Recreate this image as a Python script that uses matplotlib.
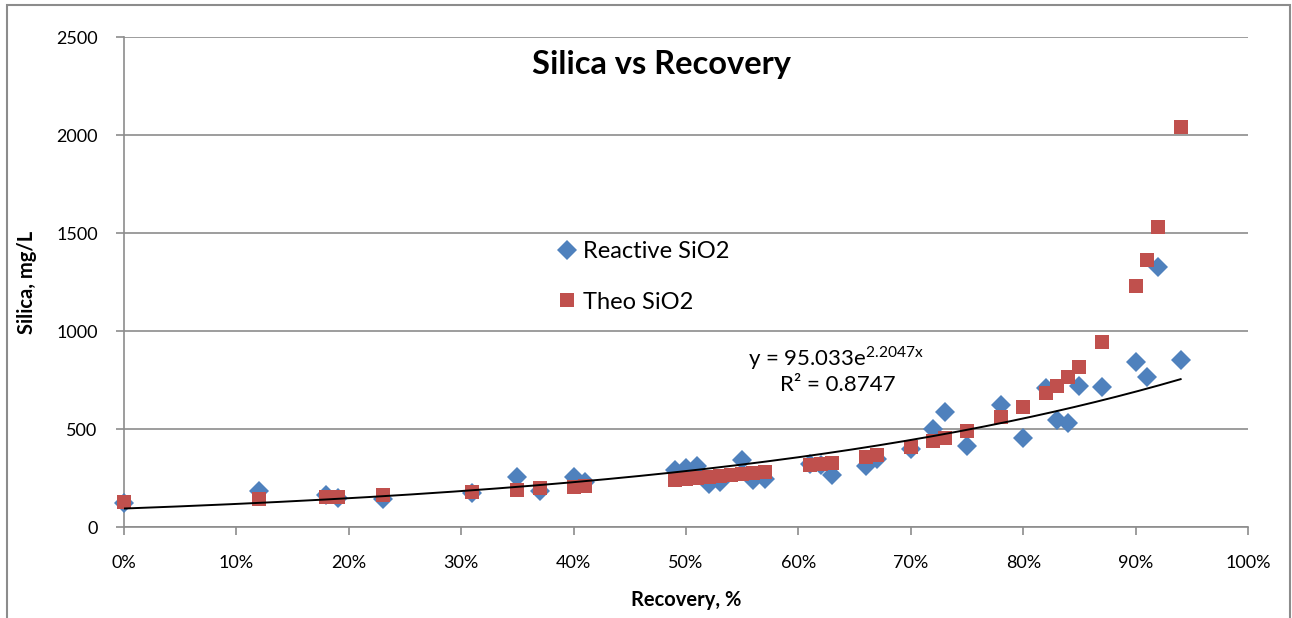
import numpy as np
import matplotlib
matplotlib.use("Agg")
import matplotlib.pyplot as plt
from matplotlib.patches import Rectangle
from matplotlib.ticker import FuncFormatter

plt.rcParams['font.family'] = ['Lato', 'DejaVu Sans']
plt.rcParams['mathtext.fontset'] = 'custom'
plt.rcParams['mathtext.rm'] = 'Lato'

# recovery fraction and silica (mg/L)
recovery = [0.00, 0.12, 0.18, 0.19, 0.23, 0.31, 0.35, 0.37, 0.40, 0.41,
            0.49, 0.50, 0.51, 0.52, 0.53, 0.55, 0.56, 0.57,
            0.61, 0.62, 0.63, 0.66, 0.67, 0.70, 0.72, 0.73, 0.75, 0.78, 0.80,
            0.82, 0.83, 0.84, 0.85, 0.87, 0.90, 0.91, 0.92, 0.94]
reactive = [125, 185, 162, 150, 143, 175, 258, 182, 255, 228,
            290, 300, 310, 222, 228, 345, 242, 245,
            320, 318, 265, 312, 350, 398, 503, 585, 412, 622, 457,
            712, 545, 530, 722, 715, 842, 768, 1325, 852]

theo_rec = [0.00, 0.12, 0.18, 0.19, 0.23, 0.31, 0.35, 0.37, 0.40, 0.41,
            0.49, 0.50, 0.51, 0.52, 0.53, 0.54, 0.55, 0.56, 0.57,
            0.61, 0.62, 0.63, 0.66, 0.67, 0.70, 0.72, 0.73, 0.75, 0.78, 0.80,
            0.82, 0.83, 0.84, 0.85, 0.87, 0.90, 0.91, 0.92, 0.94]
theo = [128, 142, 155, 155, 163, 180, 192, 198, 205, 210,
        242, 246, 250, 255, 260, 265, 270, 276, 282,
        315, 320, 325, 358, 368, 408, 442, 456, 492, 562, 612,
        682, 722, 768, 818, 942, 1228, 1365, 1532, 2040]

# Excel exponential trendline coefficients
trend_a = 95.033
trend_b = 2.2047

fig = plt.figure(figsize=(12.92, 6.18), dpi=100)
ax = fig.add_axes([0.096, 0.147, 0.870, 0.793])

ax.plot(recovery, reactive, linestyle='none', marker='D', markersize=10,
        color='#4F81BD', markeredgewidth=0, label='Reactive SiO2', zorder=3,
        clip_on=False)
ax.plot(theo_rec, theo, linestyle='none', marker='s', markersize=10.5,
        color='#C0504D', markeredgewidth=0, label='Theo SiO2', zorder=4,
        clip_on=False)

xt = np.linspace(0, max(recovery), 200)
ax.plot(xt, trend_a * np.exp(trend_b * xt), color='black', lw=1.4, zorder=5)

ax.set_xlim(0, 1)
ax.set_ylim(0, 2500)
ax.set_xticks(np.arange(0, 1.01, 0.1))
ax.set_yticks(np.arange(0, 2501, 500))
ax.xaxis.set_major_formatter(FuncFormatter(lambda v, p: f"{v*100:.0f}%"))
ax.grid(axis='y', color='#8c8c8c', lw=1.2)
ax.set_axisbelow(True)
for s in ['top', 'right']:
    ax.spines[s].set_visible(False)
for s in ['left', 'bottom']:
    ax.spines[s].set_color('#8c8c8c')
    ax.spines[s].set_linewidth(1.2)
ax.tick_params(axis='both', colors='#8c8c8c', labelcolor='black',
               labelsize=13, length=6, width=1.2, direction='out')
ax.tick_params(axis='x', pad=14)
ax.tick_params(axis='y', pad=13)

ax.set_xlabel('Recovery, %', fontsize=14.5, fontweight='bold', labelpad=14)
ax.set_ylabel('Silica, mg/L', fontsize=14.5, fontweight='bold', labelpad=14)

ax.text(0.478, 0.945, 'Silica vs Recovery', transform=ax.transAxes,
        ha='center', va='center', fontsize=23.5, fontweight='bold')

ax.text(0.555, 0.345, r'y = 95.033e$^{\mathrm{2.2047x}}$', transform=ax.transAxes,
        ha='left', va='center', fontsize=16)
ax.text(0.635, 0.29, 'R² = 0.8747', transform=ax.transAxes,
        ha='center', va='center', fontsize=16)

ax.legend(loc='upper left', bbox_to_anchor=(0.365, 0.627), frameon=False,
          fontsize=17, handletextpad=0.15, labelspacing=1.25,
          handlelength=1.0, markerscale=1.0)

fig.patches.append(Rectangle((7 / 1292, -0.1), 1283 / 1292, 1.1 - 5 / 618,
                             transform=fig.transFigure, fill=False,
                             edgecolor='#8c8c8c', lw=1.5))

fig.savefig('out.png', dpi=100)
